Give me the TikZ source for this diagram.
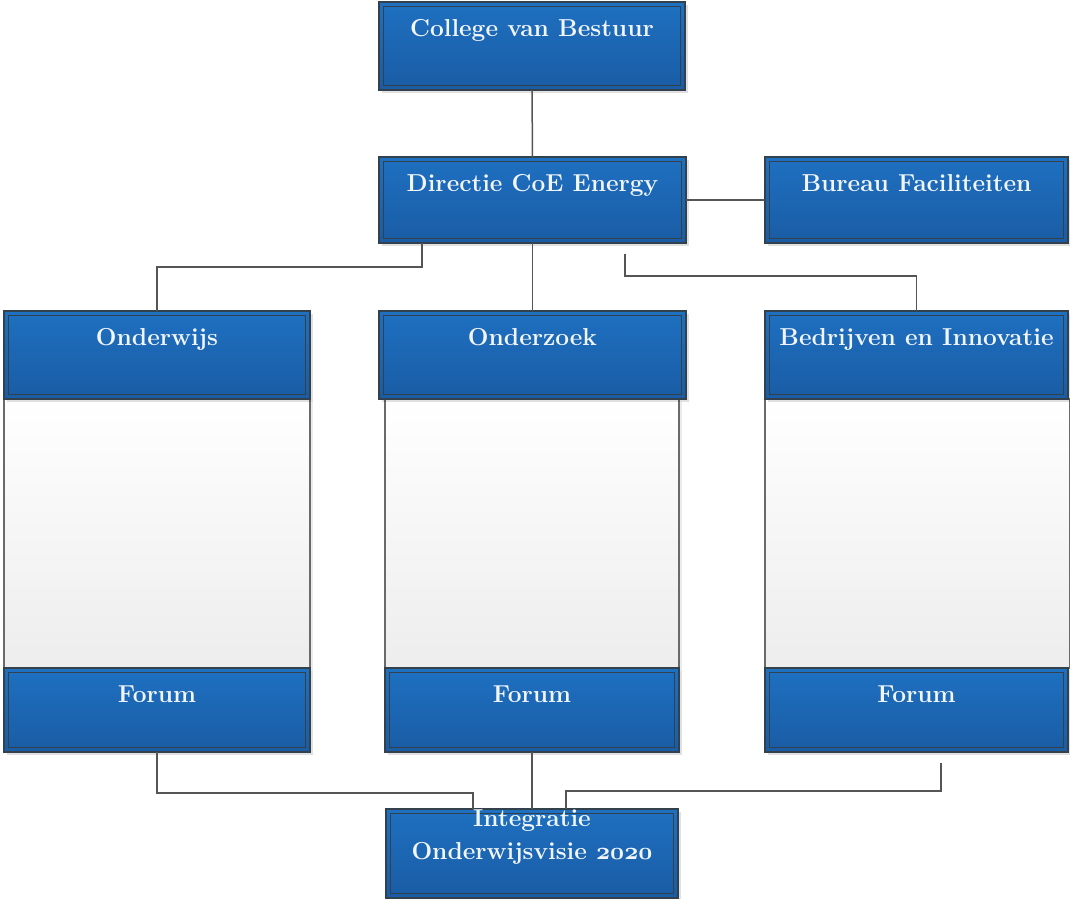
\documentclass[tikz,border=0pt]{standalone}
\usetikzlibrary{shadows}
\definecolor{bluetop}{HTML}{1E70C1}
\definecolor{bluebot}{HTML}{1A5CA4}
\definecolor{boxborder}{HTML}{33414D}
\definecolor{linegray}{HTML}{555555}
\definecolor{bodybot}{HTML}{EDEDED}
\definecolor{bodyborder}{HTML}{6A6A6A}
\definecolor{textwhite}{HTML}{F2F6FB}
\font\myosf=cmmib10 at 24.5pt
\tikzset{
  bluebox/.style={draw=boxborder, line width=1.8pt, top color=bluetop, bottom color=bluebot,
    inner sep=0pt, outer sep=0pt, anchor=north west, text=textwhite,
    font=\fontsize{24.5}{33}\selectfont\bfseries, text height=17pt,
    drop shadow={shadow xshift=3pt, shadow yshift=-3pt, fill=black, opacity=0.12},
    path picture={\draw[boxborder, line width=1.4pt]
      ([shift={(4.5pt,-4.5pt)}]path picture bounding box.north west) rectangle
      ([shift={(-4.5pt,4.5pt)}]path picture bounding box.south east);}},
  bodybox/.style={draw=bodyborder, line width=1.5pt, top color=white, bottom color=bodybot,
    inner sep=0pt, outer sep=0pt, anchor=north west,
    drop shadow={shadow xshift=3pt, shadow yshift=-3pt, fill=black, opacity=0.08}},
  conn/.style={draw=linegray, line width=1.5pt}
}
\begin{document}
\begin{tikzpicture}[x=1pt,y=-1pt]
\useasboundingbox[fill=white] (0,0) rectangle (1070,898);

% column bodies
\node[bodybox, minimum width=306, minimum height=269] (b1) at (4,399) {};
\node[bodybox, minimum width=294, minimum height=269] (b2) at (385,399) {};
\node[bodybox, minimum width=305, minimum height=269] (b3) at (765,399) {};

% top boxes
\node[bluebox, minimum width=306, minimum height=88, text depth=37pt] (cvb) at (379,2) {College van Bestuur};
\node[bluebox, minimum width=307, minimum height=86, text depth=35pt] (dir) at (379,157) {Directie CoE Energy};
\node[bluebox, minimum width=303, minimum height=86, text depth=35pt] (bur) at (765,157) {Bureau Faciliteiten};

% headers
\node[bluebox, minimum width=306, minimum height=88, text depth=37pt] (ow) at (4,311) {Onderwijs};
\node[bluebox, minimum width=307, minimum height=88, text depth=37pt] (oz) at (379,311) {Onderzoek};
\node[bluebox, minimum width=303, minimum height=88, text depth=37pt] (bi) at (765,311) {Bedrijven en Innovatie};

% forums
\node[bluebox, minimum width=306, minimum height=84, text depth=33pt] (f1) at (4,668) {Forum};
\node[bluebox, minimum width=294, minimum height=84, text depth=33pt] (f2) at (385,668) {Forum};
\node[bluebox, minimum width=303, minimum height=84, text depth=33pt] (f3) at (765,668) {Forum};

% connectors
\coordinate (c1) at (625,254);
\coordinate (c2) at (941,763);

\draw[conn] (cvb.south) -- (dir.north);
\draw[conn] (dir.east) -- (bur.west);
\draw[conn] ([xshift=-110.5pt]dir.south) -- ++(0,24) -| (ow.north);
\draw[conn] (dir.south) -- (oz.north);
\draw[conn] (c1) -- ++(0,22) -| (bi.north);

% bottom box
\node[bluebox, minimum width=292, minimum height=89, text depth=72pt] (int) at (386,809)
  {\begin{tabular}[t]{@{}c@{}}Integratie\\Onderwijsvisie {\myosf 2020}\end{tabular}};

\draw[conn] (f1.south) -- ++(0,41) -| ([xshift=-59pt]int.north);
\draw[conn] (f2.south) -- (int.north);
\draw[conn] (c2) -- ++(0,28) -| ([xshift=34pt]int.north);
\end{tikzpicture}
\end{document}
